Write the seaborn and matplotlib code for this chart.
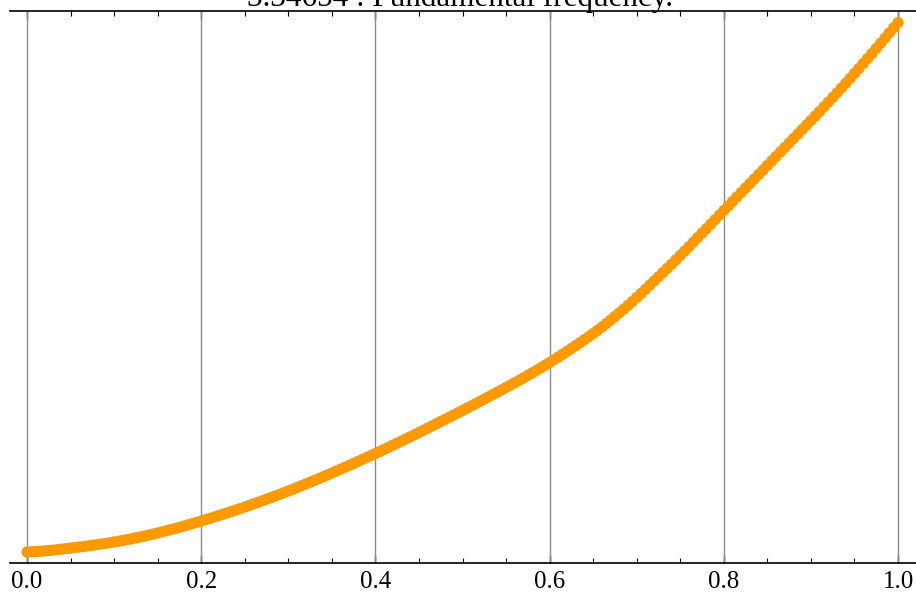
import numpy as np
import pandas as pd
import matplotlib
matplotlib.use("Agg")
import matplotlib.pyplot as plt
from matplotlib.ticker import MultipleLocator
import seaborn as sns

# Data (y in arbitrary units, no y labels shown)
x_values = [round(i * 0.005, 3) for i in range(201)]
y_values = [
    11.0, 11.2, 11.45, 11.75, 12.1, 12.5, 12.9, 13.35, 13.85, 14.4,
    15.0, 15.5, 16.0, 16.55, 17.1, 17.7, 18.3, 18.95, 19.6, 20.3,
    21.0, 21.75, 22.55, 23.35, 24.2, 25.1, 26.0, 26.95, 27.95, 28.95,
    30.0, 31.1, 32.2, 33.35, 34.5, 35.7, 36.9, 38.15, 39.4, 40.7,
    42.0, 43.3, 44.65, 46.0, 47.4, 48.8, 50.2, 51.6, 53.05, 54.5,
    56.0, 57.5, 59.05, 60.6, 62.2, 63.8, 65.4, 67.0, 68.65, 70.3,
    72.0, 73.7, 75.45, 77.2, 79.0, 80.8, 82.6, 84.4, 86.25, 88.1,
    90.0, 91.9, 93.8, 95.7, 97.65, 99.6, 101.55, 103.5, 105.5, 107.5,
    109.5, 111.55, 113.6, 115.65, 117.75, 119.85, 121.95, 124.05, 126.2, 128.35,
    130.5, 132.65, 134.85, 137.05, 139.25, 141.45, 143.65, 145.85, 148.05, 150.25,
    152.5, 154.75, 157.0, 159.3, 161.6, 163.9, 166.2, 168.5, 170.8, 173.15,
    175.5, 177.85, 180.25, 182.65, 185.1, 187.6, 190.1, 192.65, 195.25, 197.85,
    200.5, 203.2, 205.95, 208.75, 211.6, 214.5, 217.4, 220.35, 223.35, 226.4,
    229.5, 232.7, 236.0, 239.4, 242.9, 246.5, 250.1, 253.8, 257.6, 261.5,
    265.5, 269.55, 273.65, 277.8, 282.0, 286.2, 290.4, 294.6, 298.85, 303.15,
    307.5, 311.9, 316.35, 320.85, 325.35, 329.85, 334.35, 338.85, 343.4, 347.95,
    352.5, 357.0, 361.5, 366.0, 370.5, 375.0, 379.5, 384.0, 388.5, 393.0,
    397.5, 402.0, 406.5, 411.0, 415.5, 420.0, 424.5, 429.0, 433.5, 438.0,
    442.5, 447.0, 451.55, 456.15, 460.8, 465.5, 470.2, 474.95, 479.75, 484.6,
    489.5, 494.45, 499.45, 504.45, 509.5, 514.6, 519.7, 524.85, 530.05, 535.25,
    540.5,
]
x_ticks = [0.0, 0.2, 0.4, 0.6, 0.8, 1.0]
x_tick_labels = ["0.0", "0.2", "0.4", "0.6", "0.8", "1.0"]
title_text = "3.34654 : Fundamental frequency."

df = pd.DataFrame({"x": x_values, "y": y_values})

sns.set_theme(style="white")
plt.rcParams["font.family"] = ["Liberation Serif", "DejaVu Serif"]

W, H = 916, 601
fig = plt.figure(figsize=(W / 100, H / 100), dpi=100)
ax = fig.add_axes([10 / W, (H - 563) / H, 906 / W, 552 / H])

sns.scatterplot(data=df, x="x", y="y", ax=ax, color="#FF9900",
                s=66, edgecolor="none", linewidth=0, zorder=3, legend=False)

ax.set_xlim(-17 / 871, 1 + 18 / 871)
ax.set_ylim(0, 552)

ax.set_xticks(x_ticks)
ax.set_xticklabels(x_tick_labels)
ax.xaxis.set_minor_locator(MultipleLocator(0.05))
ax.set_yticks([])
ax.set_xlabel("")
ax.set_ylabel("")

for xv in x_ticks:
    ax.axvline(xv, color="#8c8c8c", linewidth=1.0, zorder=1)

for side in ["left", "right"]:
    ax.spines[side].set_visible(False)
for side in ["top", "bottom"]:
    ax.spines[side].set_visible(True)
    ax.spines[side].set_color("black")
    ax.spines[side].set_linewidth(1.2)

ax.tick_params(axis="x", which="major", direction="in", length=6, width=1.0,
               color="black", top=True, bottom=True, labelsize=18, pad=6,
               labelcolor="black")
ax.tick_params(axis="x", which="minor", direction="in", length=3.5, width=0.8,
               color="black", top=True, bottom=True)

fig.text(460 / W, (H - 6) / H, title_text, ha="center", va="baseline",
         fontsize=22.4, color="black")

fig.savefig("out.png", dpi=100)
